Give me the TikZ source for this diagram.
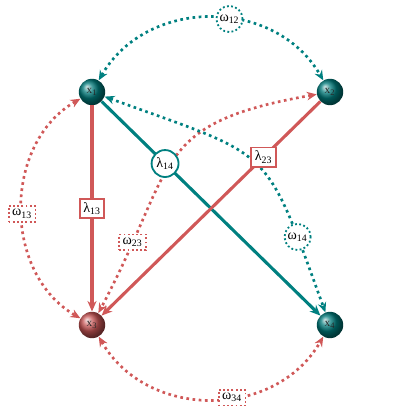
\documentclass[tikz,border=0pt]{standalone}
\usepackage{fontspec}
\setmainfont{Liberation Serif}
\usetikzlibrary{arrows.meta}
\definecolor{tealc}{RGB}{0,128,128}
\definecolor{redc}{RGB}{208,88,88}
\begin{document}
\begin{tikzpicture}[
        var/.style={circle, minimum size=0.66cm, inner sep=0pt, font=\footnotesize, text=black!85},
        load/.style={line width=2.2pt, -{Stealth[length=7.5pt,width=6.5pt]}},
        cov/.style={line width=1.9pt, dash pattern=on 1.9pt off 2.5pt,
            {Stealth[length=7pt,width=6pt]}-{Stealth[length=7pt,width=6pt]}},
        lbox/.style={draw, solid, fill=white, line width=1.3pt, inner sep=2.5pt, text=black},
        lcirc/.style={lbox, circle, inner sep=1.5pt},
        wbox/.style={draw, fill=white, line width=1.3pt, dash pattern=on 1.3pt off 1.7pt,
            inner sep=2.5pt, text=black},
        wcirc/.style={wbox, circle, inner sep=1.2pt}
    ]
    \useasboundingbox (0,0) rectangle (10.5,10.5);
    % latent variables
    \node[var, ball color=tealc!95!black] (x1) at (2.3,8.2) {x\textsubscript{1}};
    \node[var, ball color=tealc!95!black] (x2) at (8.25,8.2) {x\textsubscript{2}};
    \node[var, ball color=redc!95!black] (x3) at (2.3,2.375) {x\textsubscript{3}};
    \node[var, ball color=tealc!95!black] (x4) at (8.25,2.375) {x\textsubscript{4}};
    % covariances
    \draw[cov, tealc] (x1) to[out=60, in=120, looseness=1.1]
        node[pos=0.57, wcirc] {ω\textsubscript{12}} (x2);
    \draw[cov, redc] (x3) to[out=-60, in=-120, looseness=1.1]
        node[pos=0.58, wbox] {ω\textsubscript{34}} (x4);
    \draw[cov, redc] (x1) to[out=210, in=150, looseness=1.05]
        node[pos=0.52, wbox] {ω\textsubscript{13}} (x3);
    \draw[cov, redc] (x2) to[out=190, in=62, looseness=1.4]
        node[pos=0.82, wbox] {ω\textsubscript{23}} (x3);
    \draw[cov, tealc] (x1) to[out=-20, in=110, looseness=1.5]
        node[pos=0.82, wcirc] {ω\textsubscript{14}} (x4);
    % loadings
    \draw[load, redc] (x1) -- node[lbox] {λ\textsubscript{13}} (x3);
    \draw[load, tealc] (x1) -- node[pos=0.29, lcirc] {λ\textsubscript{14}} (x4);
    \draw[load, redc] (x2) -- node[pos=0.26, lbox] {λ\textsubscript{23}} (x3);
\end{tikzpicture}
\end{document}
